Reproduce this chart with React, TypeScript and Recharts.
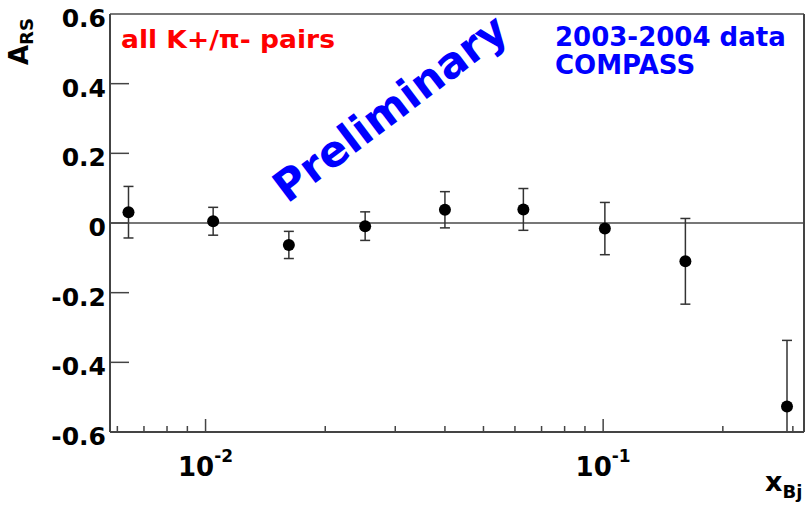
import React from 'react';
import { ScatterChart, Scatter, XAxis, YAxis, ErrorBar, ReferenceLine } from 'recharts';

const xBj = [0.0064, 0.01045, 0.0162, 0.0252, 0.040, 0.063, 0.101, 0.161, 0.290];
const aRS = [0.031, 0.005, -0.063, -0.009, 0.038, 0.039, -0.016, -0.110, -0.527];
const aErr = [0.074, 0.040, 0.039, 0.041, 0.052, 0.060, 0.075, 0.123, 0.190];

const X_MIN = 0.00575;
const X_MAX = 0.32;
const Y_MIN = -0.6;
const Y_MAX = 0.6;

const xTicks = [0.006, 0.007, 0.008, 0.009, 0.01, 0.02, 0.03, 0.04, 0.05, 0.06, 0.07, 0.08, 0.09, 0.1, 0.2, 0.3];
const xMajorTicks = [0.01, 0.1];
const xMajorExp = ['-2', '-1'];
const yTicks = [-0.6, -0.4, -0.2, 0, 0.2, 0.4, 0.6];
const yTickLabels = ['-0.6', '-0.4', '-0.2', '0', '0.2', '0.4', '0.6'];

// error bars are cut at the frame, as in the original plot
const data = xBj.map((x, i) => ({
  x,
  y: aRS[i],
  err: [Math.min(aErr[i], aRS[i] - Y_MIN), Math.min(aErr[i], Y_MAX - aRS[i])],
}));

const FONT = '"DejaVu Sans", "Liberation Sans", Arial, sans-serif';
const AXIS = '#444';

const XTick = (props: any) => {
  const { x, y, payload } = props;
  const v = payload.value;
  const mi = xMajorTicks.findIndex((m) => Math.abs(m - v) < 1e-9);
  const major = mi >= 0;
  return (
    <g>
      <line x1={x} x2={x} y1={y} y2={y - (major ? 13 : 6)} stroke={AXIS} strokeWidth={1.5} />
      {major && (
        <text x={x} y={y + 44} textAnchor="middle" fontFamily={FONT} fontWeight="bold" fill="#000">
          <tspan fontSize={26}>10</tspan>
          <tspan fontSize={17} dy={-14}>{xMajorExp[mi]}</tspan>
        </text>
      )}
    </g>
  );
};

const YTick = (props: any) => {
  const { x, y, payload } = props;
  const idx = yTicks.findIndex((t) => Math.abs(t - payload.value) < 1e-9);
  const label = idx >= 0 ? yTickLabels[idx] : String(payload.value);
  const edge = Math.abs(payload.value) > 0.59;
  return (
    <g>
      {!edge && <line x1={x} x2={x + 19} y1={y} y2={y} stroke={AXIS} strokeWidth={1.5} />}
      <text x={x - 4} y={y + 13} textAnchor="end" fontFamily={FONT} fontWeight="bold" fontSize={25} fill="#000">
        {label}
      </text>
    </g>
  );
};

const Dot = (props: any) => <circle cx={props.cx} cy={props.cy} r={6} fill="#000" />;

export default function App() {
  return (
    <div style={{ position: 'absolute', left: 0, top: 0, width: 809, height: 509, background: '#fff' }}>
      <ScatterChart width={809} height={509} margin={{ top: 14, right: 5, bottom: 37, left: 10 }}>
        <XAxis
          dataKey="x"
          type="number"
          scale="log"
          domain={[X_MIN, X_MAX]}
          allowDataOverflow
          ticks={xTicks}
          interval={0}
          tickSize={0}
          tickMargin={0}
          tickLine={false}
          tick={<XTick />}
          height={40}
          axisLine={{ stroke: AXIS, strokeWidth: 2 }}
        />
        <YAxis
          dataKey="y"
          type="number"
          domain={[Y_MIN, Y_MAX]}
          allowDataOverflow
          ticks={yTicks}
          interval={0}
          tickSize={0}
          tickMargin={0}
          tickLine={false}
          tick={<YTick />}
          width={100}
          axisLine={{ stroke: AXIS, strokeWidth: 2 }}
        />
        <ReferenceLine y={0} stroke="#777" strokeWidth={2} />
        <ReferenceLine y={Y_MAX} stroke="#777" strokeWidth={2} />
        <ReferenceLine x={X_MAX} stroke={AXIS} strokeWidth={2} />
        <Scatter data={data} isAnimationActive={false} shape={<Dot />}>
          <ErrorBar dataKey="err" direction="y" width={5} stroke="#333" strokeWidth={1.5} />
        </Scatter>
      </ScatterChart>
      <svg
        width={809}
        height={509}
        style={{ position: 'absolute', left: 0, top: 0, pointerEvents: 'none' }}
      >
        <text x={121} y={48} fontFamily={FONT} fontWeight="bold" fontSize={25} fill="#ff0000" textLength={214} lengthAdjust="spacingAndGlyphs">
          all K+/π- pairs
        </text>
        <text x={555} y={46} fontFamily={FONT} fontWeight="bold" fontSize={26} fill="#0000ff">
          2003-2004 data
        </text>
        <text x={555} y={74} fontFamily={FONT} fontWeight="bold" fontSize={26} fill="#0000ff">
          COMPASS
        </text>
        <text
          x={390}
          y={108}
          textAnchor="middle"
          dominantBaseline="central"
          transform="rotate(-37 390 108)"
          fontFamily={FONT}
          fontWeight="bold"
          fontSize={43}
          fill="#0000ff"
        >
          Preliminary
        </text>
        <text x={28} y={65} transform="rotate(-90 28 65)" fontFamily={FONT} fontWeight="bold" fill="#000">
          <tspan fontSize={26}>A</tspan>
          <tspan fontSize={18} dy={5}>RS</tspan>
        </text>
        <text x={765} y={491} fontFamily={FONT} fontWeight="bold" fill="#000">
          <tspan fontSize={27}>x</tspan>
          <tspan fontSize={18} dy={7}>Bj</tspan>
        </text>
      </svg>
    </div>
  );
}
